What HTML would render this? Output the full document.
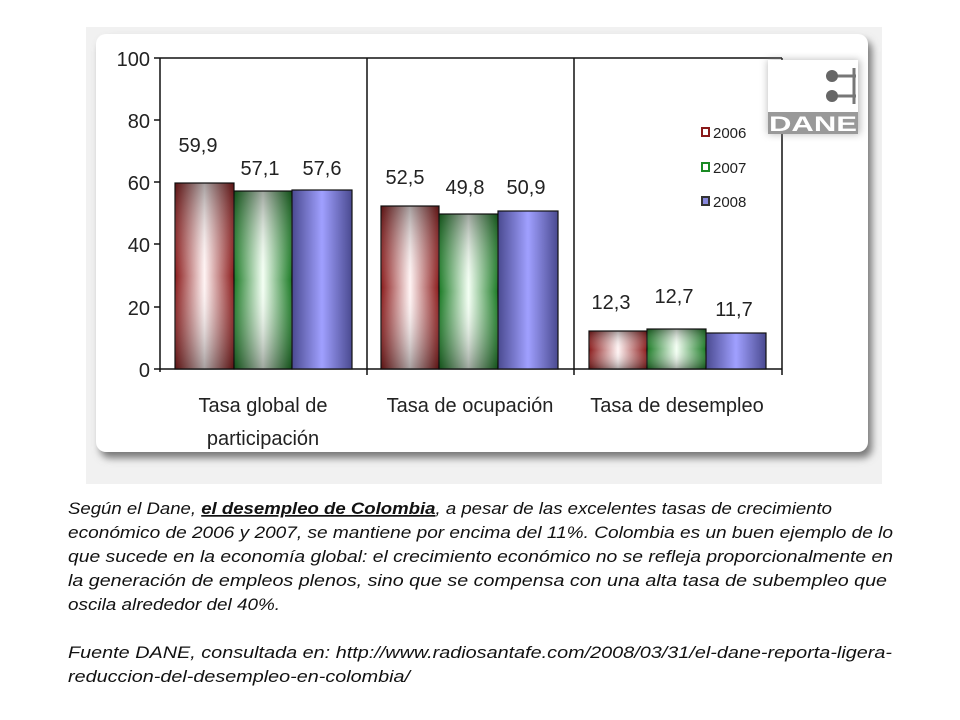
<!DOCTYPE html>
<html><head><meta charset="utf-8"><style>
html,body{margin:0;padding:0;background:#fff;width:960px;height:720px;overflow:hidden}
svg{display:block}
</style></head><body>
<svg width="960" height="720" viewBox="0 0 960 720" xmlns="http://www.w3.org/2000/svg" font-family="Liberation Sans, Arial, sans-serif">
<defs>
<linearGradient id="rH" x1="0" x2="1" y1="0" y2="0"><stop offset="0" stop-color="#8a1a1a"/><stop offset="0.5" stop-color="#fff4f4"/><stop offset="1" stop-color="#8a1a1a"/></linearGradient>
<linearGradient id="gH" x1="0" x2="1" y1="0" y2="0"><stop offset="0" stop-color="#1a7a24"/><stop offset="0.5" stop-color="#f4fff4"/><stop offset="1" stop-color="#1a7a24"/></linearGradient>
<linearGradient id="bH" x1="0" x2="1" y1="0" y2="0"><stop offset="0" stop-color="#4a4a90"/><stop offset="0.5" stop-color="#a0a0ff"/><stop offset="1" stop-color="#4a4a90"/></linearGradient>
<linearGradient id="vW" x1="0" x2="0" y1="0" y2="1"><stop offset="0" stop-color="#000" stop-opacity="0.35"/><stop offset="0.5" stop-color="#fff" stop-opacity="0"/><stop offset="1" stop-color="#000" stop-opacity="0.35"/></linearGradient>
<filter id="sh"><feGaussianBlur stdDeviation="4"/></filter>
</defs>
<rect x="86" y="27" width="796" height="457" fill="#f1f1f1"/>
<rect x="100" y="40" width="772" height="418" rx="10" fill="#777" filter="url(#sh)"/>
<rect x="96" y="34" width="772" height="418" rx="10" fill="#fff"/>
<g stroke="#111" stroke-width="1.5" fill="none">
<line x1="160" y1="58" x2="160" y2="372"/>
<line x1="160" y1="58" x2="782" y2="58"/>
<line x1="160" y1="369" x2="782" y2="369"/>
<line x1="367" y1="58" x2="367" y2="375"/>
<line x1="574" y1="58" x2="574" y2="375"/>
<line x1="782" y1="58" x2="782" y2="375"/>
<line x1="154" y1="58" x2="160" y2="58"/><line x1="154" y1="120" x2="160" y2="120"/><line x1="154" y1="182" x2="160" y2="182"/><line x1="154" y1="244" x2="160" y2="244"/><line x1="154" y1="307" x2="160" y2="307"/><line x1="154" y1="369" x2="160" y2="369"/>
</g>
<g font-size="20" fill="#222" text-anchor="end">
<text x="150" y="66">100</text><text x="150" y="128">80</text><text x="150" y="190">60</text><text x="150" y="252">40</text><text x="150" y="315">20</text><text x="150" y="377">0</text>
</g>
<g stroke="#111" stroke-width="1.2">
<rect x="175" y="183" width="59" height="186" fill="url(#rH)"/>
<rect x="234" y="191" width="58" height="178" fill="url(#gH)"/>
<rect x="292" y="190" width="60" height="179" fill="url(#bH)"/>
<rect x="381" y="206" width="58" height="163" fill="url(#rH)"/>
<rect x="439" y="214" width="59" height="155" fill="url(#gH)"/>
<rect x="498" y="211" width="60" height="158" fill="url(#bH)"/>
<rect x="589" y="331" width="58" height="38" fill="url(#rH)"/>
<rect x="647" y="329" width="59" height="40" fill="url(#gH)"/>
<rect x="706" y="333" width="60" height="36" fill="url(#bH)"/>
</g>
<g fill="url(#vW)">
<rect x="175" y="183" width="59" height="186"/><rect x="234" y="191" width="58" height="178"/>
<rect x="381" y="206" width="58" height="163"/><rect x="439" y="214" width="59" height="155"/>
<rect x="589" y="331" width="58" height="38"/><rect x="647" y="329" width="59" height="40"/>
</g>
<g font-size="20" fill="#222" text-anchor="middle">
<text x="198" y="152">59,9</text><text x="260" y="175">57,1</text><text x="322" y="175">57,6</text>
<text x="405" y="184">52,5</text><text x="465" y="194">49,8</text><text x="526" y="194">50,9</text>
<text x="611" y="309">12,3</text><text x="674" y="303">12,7</text><text x="734" y="316">11,7</text>
<text x="263" y="412">Tasa global de</text><text x="263" y="445">participación</text>
<text x="470" y="412">Tasa de ocupación</text>
<text x="677" y="412">Tasa de desempleo</text>
</g>
<g stroke-width="2" fill="#fff">
<rect x="702" y="128" width="7" height="8" stroke="#8a1a1a"/>
<rect x="702" y="163" width="7" height="8" stroke="#1a8a24"/>
<rect x="702" y="197" width="7" height="8" fill="#8888dd" stroke="#333"/>
</g>
<g font-size="15" fill="#222"><text x="713" y="138">2006</text><text x="713" y="173">2007</text><text x="713" y="207">2008</text></g>
<rect x="768" y="60" width="92" height="74" fill="#888" filter="url(#sh)" opacity="0.6"/>
<rect x="768" y="60" width="90" height="72" fill="#fff"/>
<rect x="768" y="112" width="90" height="22" fill="#999"/>
<g stroke="#777" stroke-width="3"><line x1="832" y1="76" x2="856" y2="76"/><line x1="832" y1="96" x2="856" y2="96"/><line x1="854" y1="68" x2="854" y2="104"/></g>
<circle cx="832" cy="76" r="6" fill="#666"/><circle cx="832" cy="96" r="6" fill="#666"/>
<text x="813" y="131" font-size="21" font-weight="bold" fill="#fff" text-anchor="middle" textLength="88" lengthAdjust="spacingAndGlyphs">DANE</text>
<g font-size="17" font-style="italic" fill="#111">
<text x="68" y="514" textLength="764" lengthAdjust="spacingAndGlyphs">Según el Dane, <tspan font-weight="bold" text-decoration="underline">el desempleo  de Colombia</tspan>,  a pesar de las excelentes tasas de crecimiento</text>
<text x="68" y="538" textLength="825" lengthAdjust="spacingAndGlyphs">económico de 2006 y 2007, se mantiene por encima del 11%. Colombia es un buen ejemplo de lo</text>
<text x="68" y="562" textLength="825" lengthAdjust="spacingAndGlyphs">que sucede en la economía global: el crecimiento económico no se refleja proporcionalmente en</text>
<text x="68" y="586" textLength="819" lengthAdjust="spacingAndGlyphs">la generación de empleos plenos, sino que se compensa con una alta tasa de subempleo que</text>
<text x="68" y="610" textLength="212" lengthAdjust="spacingAndGlyphs">oscila alrededor del 40%.</text>
<text x="68" y="658" textLength="824" lengthAdjust="spacingAndGlyphs">Fuente DANE, consultada en: http://www.radiosantafe.com/2008/03/31/el-dane-reporta-ligera-</text>
<text x="68" y="682" textLength="342" lengthAdjust="spacingAndGlyphs">reduccion-del-desempleo-en-colombia/</text>
</g>
</svg>
</body></html>
